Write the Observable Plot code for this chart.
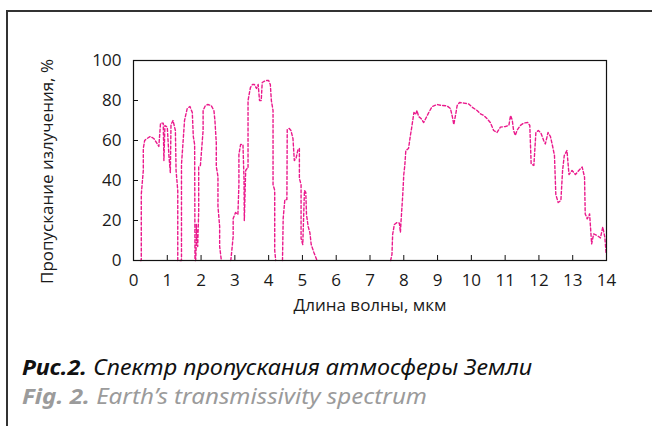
<!DOCTYPE html>
<html><head><meta charset="utf-8">
<script src="https://cdn.jsdelivr.net/npm/d3@7"></script>
<script src="https://cdn.jsdelivr.net/npm/@observablehq/plot@0.6"></script>
<style>
html,body{margin:0;padding:0;background:#fff}
body{width:652px;height:426px;overflow:hidden;position:relative;font-family:"Open Sans",sans-serif}
#frame{position:absolute;left:6px;top:10px;width:800px;height:600px;border-left:2px solid #333;border-top:2px solid #333}
#chart{position:absolute;left:0;top:0}
.cap{position:absolute;left:22px;white-space:nowrap;font-family:"Noto Sans","Open Sans",sans-serif;font-style:italic;font-size:22px;line-height:1;transform-origin:0 0}
.cap b{font-weight:700}
#cap1{top:355px;color:#111}
#cap2{top:384px;color:#9b9b9b}
</style>
</head><body>
<div id="frame"></div>
<div id="chart"></div>
<div class="cap" id="cap1"></div>
<div class="cap" id="cap2"></div>
<script>
// ---- data ----
const wavelength = [
  0.20,0.23,0.23,0.29,0.29,0.33,0.40,0.50,0.60,0.68,0.75,0.80,0.88,0.90,0.93,1.00,1.05,1.09,1.11,1.17,1.24,1.26,1.31,1.31,1.34,
  1.42,1.42,1.47,1.51,1.59,1.67,1.74,1.77,1.81,1.82,1.84,1.86,1.86,1.90,1.93,1.93,1.98,2.06,2.06,2.13,2.20,2.30,2.38,2.41,2.45,2.45,2.50,2.50,2.55,2.55,2.60,
  2.75,
  2.88,2.91,2.95,2.95,3.02,3.09,3.12,3.12,3.17,3.24,3.27,3.28,3.32,3.36,3.39,3.39,3.46,3.52,3.58,3.64,3.69,3.73,3.78,3.81,3.91,4.00,4.05,4.08,4.13,4.13,4.18,4.18,4.21,
  4.31,
  4.41,4.43,4.48,4.54,4.55,4.61,4.66,4.72,4.76,4.81,4.87,4.91,4.91,4.96,4.96,5.01,5.06,5.10,5.12,5.17,5.22,5.26,5.34,5.43,
  6.50,
  7.61,7.65,7.67,7.72,7.80,7.87,7.90,7.92,7.97,8.00,8.03,8.06,8.14,8.20,8.23,8.30,8.35,8.39,8.44,8.51,8.59,8.65,8.74,8.84,8.99,
  9.13,9.28,9.38,9.44,9.48,9.53,9.58,9.65,9.78,9.92,10.02,10.17,10.27,10.37,10.47,10.56,10.66,10.76,10.86,11.01,11.11,11.16,11.21,
  11.25,11.30,11.35,11.45,11.55,11.67,11.73,11.77,11.85,11.91,11.98,12.06,12.14,12.19,12.27,12.34,12.40,12.46,12.50,12.57,12.65,
  12.70,12.75,12.83,12.89,12.98,13.08,13.18,13.28,13.35,13.37,13.43,13.50,13.56,13.62,13.72,13.82,13.89,13.95,13.99
];
const transmission = [
  0,0,33,45,56,60,61,62,61,59,57,68.7,68.7,50,67.5,66.7,52,44,68,70,65,45,35,0,0,
  0,48,60,70,76,77,74,62,58,0,0,9,18,7,25,47,47.5,65,75,77.5,78,77.5,75,70,59,47,42,27,17,7,0,
  null,
  0,5,12,21,24,23,38,53,58,58,41,20,45,46,46,80,86.4,88,88,86,88,80,80,89,90,90,88,80,75,38,35,5,0,
  null,
  0,21,30.5,30.5,65.6,66,65,61,50,51,55.6,56,41,38,11,8,35,34,23,17,14,8,4,0,
  null,
  0,3,13,18,19,18.7,14,20,33,43,47.5,55,56,63,66,74,73,75,72,71,69,71,74,77,78,
  77.5,77.3,76,71.7,68,72.5,77.5,79,78.7,78.3,76.7,75,73.3,72.5,70.8,69,65,64,66.7,67,67.5,72.5,70.3,
  65,62.5,65,67.5,68.7,69,67.5,48.3,47.5,64,65,63.7,60,58.3,64,62,57.5,52.5,33,29,30,
  45,52.5,55,43,45,43,45,46.7,41.7,23.3,20.8,23.3,8.3,13.3,12.5,11.3,16.7,11.7,3.3
];
const xTicks = [0,1,2,3,4,5,6,7,8,9,10,11,12,13,14];
const yTicks = [0,20,40,60,80,100];
const xLabel = "Длина волны, мкм";
const yLabel = "Пропускание излучения, %";
const captionRu = ["Рис.2.", " Спектр пропускания атмосферы Земли"];
const captionEn = ["Fig. 2.", " Earth’s transmissivity spectrum"];

const idx = d3.range(wavelength.length);
const font = "'Open Sans', sans-serif";

const chart = Plot.plot({
  width: 652, height: 330,
  marginLeft: 133, marginRight: 46, marginTop: 60, marginBottom: 70,
  style: {fontFamily: font, fontSize: "17px", color: "#1a1a1a", background: "transparent", overflow: "visible"},
  x: {domain: [0, 14], ticks: xTicks, label: null},
  y: {domain: [0, 100], ticks: yTicks, label: null},
  marks: [
    Plot.line(idx, {
      x: i => wavelength[i], y: i => transmission[i],
      stroke: "#ea1a8c", strokeWidth: 1.4, strokeDasharray: "3,2.2", curve: "linear"
    }),
    Plot.frame({stroke: "#111", strokeWidth: 1.2}),
    Plot.axisX({ticks: xTicks, tickSize: 0, tickPadding: 13, label: null, fontSize: 17}),
    Plot.axisX({ticks: xTicks.slice(1, -1), tickSize: -5, tickFormat: () => "", label: null, stroke: "#111"}),
    Plot.axisY({ticks: yTicks, tickSize: 0, tickPadding: 12, label: null, fontSize: 17}),
    Plot.axisY({ticks: yTicks.slice(1, -1), tickSize: -5, tickFormat: () => "", label: null, stroke: "#111"}),
    Plot.text([xLabel], {text: d => d, frameAnchor: "bottom", textAnchor: "middle", lineAnchor: "middle", dy: 45, fontSize: 17}),
    Plot.text([yLabel], {text: d => d, frameAnchor: "left", textAnchor: "middle", lineAnchor: "middle", rotate: -90, dx: -86, dy: 11, fontSize: 17})
  ]
});
document.getElementById("chart").appendChild(chart);

function fillCap(id, parts, target) {
  const el = document.getElementById(id);
  const b = document.createElement("b");
  b.textContent = parts[0];
  el.appendChild(b);
  el.appendChild(document.createTextNode(parts[1]));
  const w = el.getBoundingClientRect().width;
  el.style.transform = `scaleX(${target / w})`;
}
fillCap("cap1", captionRu, 510);
fillCap("cap2", captionEn, 405);
</script>
</body></html>
